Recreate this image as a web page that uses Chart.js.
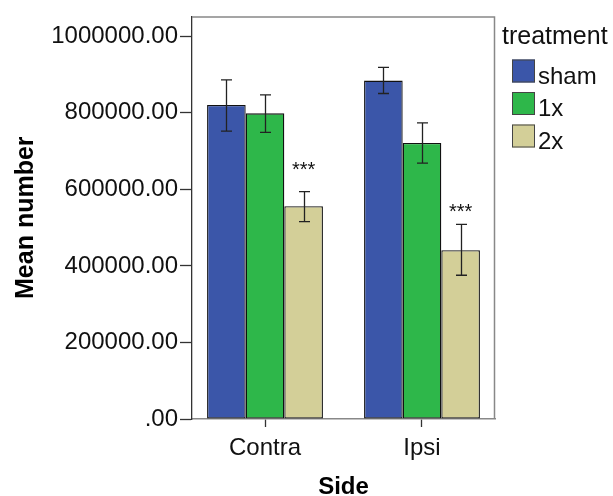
<!DOCTYPE html>
<html><head><meta charset="utf-8">
<script src="https://cdn.jsdelivr.net/npm/chart.js@4"></script>
<style>html,body{margin:0;padding:0;background:#fff}#wrap{width:613px;height:496px}</style>
</head><body><div id="wrap"><canvas id="c" width="613" height="496"></canvas></div>
<script>
const categories = ['Contra', 'Ipsi'];
const seriesNames = ['sham', '1x', '2x'];
const shamMean = [820500, 884200];
const shamLow = [752000, 850500];
const shamHigh = [886000, 918900];
const oneXMean = [798700, 721000];
const oneXLow = [748700, 668400];
const oneXHigh = [847000, 773800];
const twoXMean = [556200, 441200];
const twoXLow = [515500, 375600];
const twoXHigh = [594000, 508500];
const twoXStarLabel = ['***', '***'];
const twoXStarValue = [664000, 554400];
const yTickValues = [0, 200000, 400000, 600000, 800000, 1000000];
const yTickLabels = ['.00', '200000.00', '400000.00', '600000.00', '800000.00', '1000000.00'];
const legendTitle = 'treatment';
const xTitle = 'Side';
const yTitle = 'Mean number';

const FAM = "'Liberation Sans', Arial, sans-serif";
const colors = ['#3b56a9', '#2eb74a', '#d3cf98'];
const means = [shamMean, oneXMean, twoXMean];
const lows = [shamLow, oneXLow, twoXLow];
const highs = [shamHigh, oneXHigh, twoXHigh];

const framePlugin = {
  id: 'frame',
  beforeDatasetsDraw(chart) {
    const {ctx, chartArea: a} = chart;
    ctx.save();
    ctx.strokeStyle = '#888';
    ctx.lineWidth = 1.5;
    ctx.beginPath();
    ctx.moveTo(a.left, a.top + 0.5);
    ctx.lineTo(a.right - 0.5, a.top + 0.5);
    ctx.lineTo(a.right - 0.5, a.bottom);
    ctx.stroke();
    ctx.restore();
  }
};

const errPlugin = {
  id: 'errbars',
  afterDatasetsDraw(chart) {
    const {ctx} = chart;
    const ys = chart.scales.y;
    ctx.save();
    ctx.strokeStyle = '#222';
    ctx.lineWidth = 1.3;
    chart.data.datasets.forEach((ds, i) => {
      const meta = chart.getDatasetMeta(i);
      meta.data.forEach((bar, j) => {
        const x = Math.round(bar.x) + 0.5;
        const t = ys.getPixelForValue(highs[i][j]);
        const b = ys.getPixelForValue(lows[i][j]);
        ctx.beginPath();
        ctx.moveTo(x, t); ctx.lineTo(x, b);
        ctx.moveTo(x - 5.5, t); ctx.lineTo(x + 5.5, t);
        ctx.moveTo(x - 5.5, b); ctx.lineTo(x + 5.5, b);
        ctx.stroke();
      });
    });
    const meta2 = chart.getDatasetMeta(2);
    ctx.fillStyle = '#111';
    ctx.font = '20px ' + FAM;
    ctx.textAlign = 'center';
    ctx.textBaseline = 'alphabetic';
    meta2.data.forEach((bar, j) => {
      const y = ys.getPixelForValue(twoXStarValue[j]) + 11.5;
      ctx.fillText(twoXStarLabel[j], bar.x, y);
    });
    ctx.restore();
  }
};

const legendPlugin = {
  id: 'customLegend',
  afterDraw(chart) {
    const {ctx} = chart;
    ctx.save();
    ctx.fillStyle = '#111';
    ctx.textAlign = 'left';
    ctx.textBaseline = 'alphabetic';
    ctx.font = '25px ' + FAM;
    ctx.fillText(legendTitle, 502, 44);
    ctx.font = '24px ' + FAM;
    seriesNames.forEach((name, i) => {
      const top = 59.5 + i * 32.5;
      ctx.fillStyle = colors[i];
      ctx.fillRect(512, top, 23, 23);
      ctx.strokeStyle = '#444';
      ctx.lineWidth = 1;
      ctx.strokeRect(512.5, top + 0.5, 22, 22);
      ctx.fillStyle = '#111';
      ctx.fillText(name, 538, top + 24);
    });
    ctx.restore();
  }
};

new Chart(document.getElementById('c'), {
  type: 'bar',
  data: {
    labels: categories,
    datasets: seriesNames.map((n, i) => ({
      label: n,
      data: means[i],
      backgroundColor: colors[i],
      borderColor: '#111',
      borderWidth: 1.3,
      borderSkipped: false,
      barPercentage: 1,
      categoryPercentage: 0.738
    }))
  },
  options: {
    responsive: false,
    animation: false,
    devicePixelRatio: 1,
    layout: {padding: {top: 13, right: 118, left: 0, bottom: 0}},
    plugins: {legend: {display: false}, tooltip: {enabled: false}},
    scales: {
      x: {
        offset: true,
        afterFit: s => { s.height = 77; },
        afterUpdate: s => { s._startValue = -0.465; s._valueRange = 1.93; },
        grid: {offset: false, drawOnChartArea: false, tickLength: 8, color: '#333', tickWidth: 1.3},
        border: {color: '#888', width: 1.5},
        ticks: {font: {size: 24, family: FAM}, color: '#111', padding: 7},
        title: {display: true, text: xTitle, color: '#000', font: {size: 24, weight: 'bold', family: FAM}, padding: {top: 0, bottom: -6}}
      },
      y: {
        min: 0,
        max: 1052000,
        afterBuildTicks: s => { s.ticks = yTickValues.map(v => ({value: v})); },
        afterFit: s => { s.width = 192; },
        grid: {drawOnChartArea: false, tickLength: 12, color: '#333', tickWidth: 1.3},
        border: {color: '#333', width: 1.3},
        ticks: {
          font: {size: 24, family: FAM}, color: '#111', padding: 2,
          callback: v => yTickLabels[yTickValues.indexOf(v)]
        },
        title: {display: true, text: yTitle, color: '#000', font: {size: 25, weight: 'bold', family: FAM}, padding: {top: 11, bottom: 0}}
      }
    }
  },
  plugins: [framePlugin, errPlugin, legendPlugin]
});
</script>
</body></html>
